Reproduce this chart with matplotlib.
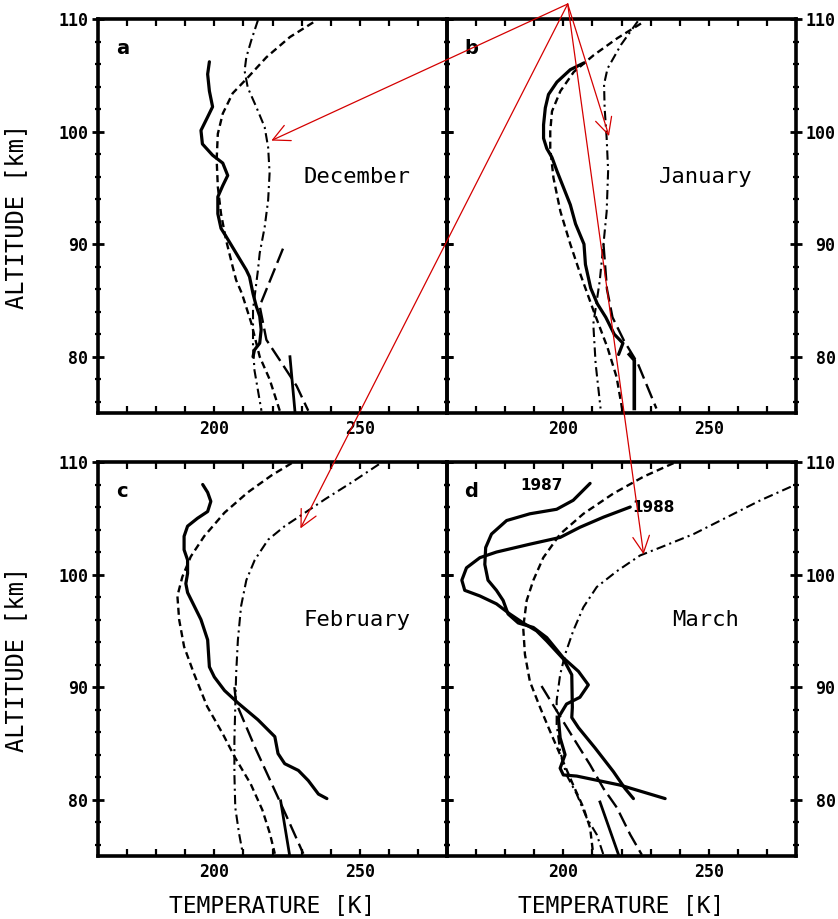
import matplotlib
matplotlib.use("Agg")
import matplotlib.pyplot as plt
from matplotlib.ticker import FixedLocator, MultipleLocator
from matplotlib.patches import ConnectionPatch

plt.rcParams['font.family'] = ['DejaVu Sans Mono', 'DejaVu Sans']

# ---------------- December (a) ----------------
dec_lidar_T = [198.3, 197.7, 198.3, 199.4, 197.7, 195.4, 195.9, 199.4, 202.9, 204.6, 202.9, 201.2, 201.2,
               202.3, 204.0, 207.5, 211.0, 212.1, 213.3, 214.4, 215.6, 216.1, 215.6, 213.8, 213.3]
dec_lidar_z = [106.2, 105.1, 103.6, 102.2, 101.3, 100.1, 98.9, 97.9, 97.2, 96.1, 95.2, 94.2, 92.7,
               91.4, 90.7, 89.2, 87.7, 87.1, 85.6, 84.5, 83.6, 82.4, 81.2, 80.6, 80.0]
dec_dash_T = [234.0, 226.0, 217.9, 211.5, 206.3, 202.9, 201.2, 200.8, 201.2, 202.3, 204.0, 206.3, 207.5,
              209.5, 212.7, 215.6, 219.0, 222.5]
dec_dash_z = [109.7, 108.4, 106.6, 104.8, 103.4, 101.6, 99.8, 97.5, 95.1, 92.7, 90.4, 88.0, 86.8,
              85.6, 83.0, 80.0, 78.0, 75.2]
dec_dd_T = [215.0, 212.7, 211.0, 210.4, 211.5, 214.4, 217.3, 218.5, 219.0, 218.5, 217.3, 215.6, 215.0,
            213.3, 213.3, 213.8, 216.2]
dec_dd_z = [109.9, 108.1, 106.6, 105.4, 103.9, 102.2, 100.4, 98.6, 96.3, 93.9, 91.5, 89.2, 87.7,
            84.2, 80.9, 78.8, 75.2]
dec_long_T = [223.6, 215.6, 217.9, 222.5, 228.3, 232.3]
dec_long_z = [89.6, 84.5, 81.5, 79.7, 77.4, 75.2]
dec_seg_T = [226.0, 227.7]
dec_seg_z = [80.0, 75.2]

# ---------------- January (b) ----------------
jan_lidar_T = [207.1, 202.4, 197.8, 194.9, 193.8, 193.2, 193.2, 194.3, 196.1, 197.8, 200.1, 202.4, 204.2,
               207.1, 207.6, 209.4, 211.7, 214.6, 217.5, 220.5, 219.0]
jan_lidar_z = [106.1, 105.5, 104.4, 103.3, 102.1, 100.6, 99.4, 98.5, 97.7, 96.5, 95.0, 93.5, 91.8,
               90.0, 88.2, 86.1, 84.7, 83.5, 82.0, 81.2, 80.2]
jan_dash_T = [226.7, 218.6, 210.5, 203.6, 199.0, 196.1, 195.5, 195.5, 196.6, 199.0, 202.4, 205.9, 210.5,
              215.2, 218.3, 220.2]
jan_dash_z = [109.6, 108.3, 106.8, 105.3, 103.6, 101.8, 100.0, 98.5, 95.9, 92.9, 90.0, 87.3, 84.0,
              80.8, 78.2, 75.4]
jan_dd_T = [225.6, 219.8, 215.2, 214.0, 214.2, 214.9, 215.4, 214.9, 213.8, 212.5, 210.3, 211.1, 212.8]
jan_dd_z = [109.8, 107.7, 105.6, 104.2, 102.1, 99.4, 96.5, 92.9, 90.0, 86.7, 82.9, 79.4, 75.4]
jan_long_T = [213.8, 215.0, 216.9, 220.9, 225.6, 232.0]
jan_long_z = [90.0, 86.0, 83.5, 81.4, 79.4, 75.4]
jan_seg_T = [222.7, 224.4, 224.4]
jan_seg_z = [80.2, 79.7, 75.4]

# ---------------- February (c) ----------------
feb_lidar_T = [196.0, 197.7, 198.8, 197.7, 194.2, 190.8, 189.6, 189.6, 190.8, 190.8, 190.2, 190.8, 193.1,
               195.4, 197.7, 198.3, 200.0, 203.5, 208.1, 215.0, 220.8, 221.9, 224.2, 228.9, 232.3, 235.8, 238.7]
feb_lidar_z = [108.0, 107.3, 106.5, 105.6, 105.0, 104.3, 103.4, 102.2, 101.3, 100.1, 99.2, 98.4, 97.2,
               96.0, 94.2, 91.8, 90.9, 89.7, 88.6, 87.1, 85.6, 84.1, 83.2, 82.6, 81.7, 80.5, 80.1]
feb_dash_T = [226.6, 219.6, 211.5, 203.5, 196.5, 191.9, 189.0, 187.3, 187.9, 189.6, 193.0, 197.5, 202.8,
              207.0, 212.5, 216.5, 219.1, 220.8]
feb_dash_z = [109.9, 108.8, 107.3, 105.5, 103.4, 101.6, 99.8, 98.1, 96.0, 93.6, 91.2, 88.3, 85.9,
              83.8, 81.4, 79.1, 77.0, 75.2]
feb_dd_T = [256.6, 247.3, 238.1, 231.2, 224.2, 218.5, 213.9, 211.0, 209.2, 208.1, 207.5, 207.2, 206.9,
            206.9, 207.2, 208.5, 209.8]
feb_dd_z = [109.8, 108.2, 106.7, 105.5, 104.3, 103.1, 101.3, 99.5, 97.2, 94.2, 91.2, 88.3, 85.3,
            82.3, 79.3, 77.0, 75.2]
feb_long_T = [206.9, 207.5, 213.9, 221.9, 225.4, 230.6]
feb_long_z = [90.0, 88.6, 84.7, 80.2, 78.2, 75.2]
feb_seg_T = [222.8, 225.8]
feb_seg_z = [79.9, 75.2]

# ---------------- March (d) ----------------
mar87_T = [209.2, 203.4, 197.7, 188.5, 180.5, 175.3, 173.3, 173.0, 174.1, 177.0, 179.3, 181.0, 184.5,
           189.7, 194.3, 200.0, 205.2, 208.6, 205.7, 201.1, 198.3, 198.9, 200.6, 198.9, 200.0, 204.6,
           219.5, 235.0]
mar87_z = [108.1, 106.6, 105.8, 105.4, 104.8, 103.6, 102.4, 100.9, 99.5, 98.6, 97.7, 96.5, 95.7,
           95.3, 94.4, 92.6, 91.4, 90.2, 89.1, 88.5, 87.3, 85.5, 84.0, 82.8, 82.2, 82.1,
           81.3, 80.1]
mar88_T = [223.0, 213.8, 205.7, 198.9, 188.5, 177.0, 171.3, 166.7, 165.1, 166.1, 171.3, 177.0, 181.6,
           186.2, 190.8, 194.3, 200.0, 202.9, 203.1, 202.9, 205.2, 210.9, 217.2, 221.2, 224.1]
mar88_z = [106.0, 105.1, 104.2, 103.3, 102.7, 102.0, 101.5, 100.6, 99.5, 98.6, 98.1, 97.4, 96.5,
           95.7, 95.0, 94.1, 92.5, 91.1, 88.2, 87.3, 86.4, 84.6, 82.5, 81.0, 80.1]
mar_dash_T = [237.9, 227.6, 217.2, 206.9, 198.9, 193.1, 189.7, 187.4, 186.2, 186.8, 188.5, 192.0, 195.4,
              198.9, 203.4, 206.9, 209.2, 210.3]
mar_dash_z = [109.9, 108.7, 107.2, 105.4, 103.6, 101.5, 99.5, 97.7, 95.3, 92.9, 90.5, 88.2, 86.1,
              84.0, 81.3, 79.3, 77.5, 75.1]
mar_dd_T = [278.2, 267.8, 256.3, 244.8, 233.3, 226.4, 218.4, 211.5, 206.9, 203.4, 200.6, 198.9, 197.7,
            197.7, 198.9, 201.1, 204.6, 208.0, 211.5, 213.8]
mar_dd_z = [107.8, 106.6, 105.1, 103.6, 102.4, 101.7, 100.3, 98.9, 97.1, 95.0, 92.9, 91.1, 88.8,
            86.7, 84.3, 82.2, 80.5, 78.4, 76.9, 75.1]
mar_long_T = [192.5, 197.7, 203.4, 209.2, 213.8, 218.4, 223.0, 227.0]
mar_long_z = [90.1, 87.9, 85.5, 83.1, 81.0, 79.3, 76.9, 75.1]
mar_seg_T = [212.6, 219.0]
mar_seg_z = [79.8, 75.1]

months = ["December", "January", "February", "March"]
panel_letters = ["a", "b", "c", "d"]
x_major = [200, 250]
y_major = [80, 90, 100, 110]
# arrow targets (T, altitude) in each panel
arrow_T = [219.6, 215.7, 229.6, 227.6]
arrow_z = [99.2, 99.6, 104.1, 101.8]

W, H = 838, 919
fig = plt.figure(figsize=(W / 100, H / 100), dpi=100)
fig.patch.set_facecolor('white')

L, M = 98 / W, 447 / W
pw = 349 / W
ph = 394 / H
axa = fig.add_axes([L, 1 - 413 / H, pw, ph])
axb = fig.add_axes([M, 1 - 413 / H, pw, ph])
axc = fig.add_axes([L, 1 - 856 / H, pw, ph])
axd = fig.add_axes([M, 1 - 856 / H, pw, ph])
axes = [axa, axb, axc, axd]

solid = dict(color='black', lw=2.3, solid_joinstyle='round', solid_capstyle='round')
dashed = dict(color='black', lw=1.7, dashes=(3.0, 1.8))
dashdot = dict(color='black', lw=1.5, dashes=(4.5, 2.0, 1.0, 2.0))
longdash = dict(color='black', lw=1.7, dashes=(6.5, 2.5))
seg = dict(color='black', lw=2.0)

data = [
    [(dec_lidar_T, dec_lidar_z, solid), (dec_dash_T, dec_dash_z, dashed), (dec_dd_T, dec_dd_z, dashdot),
     (dec_long_T, dec_long_z, longdash), (dec_seg_T, dec_seg_z, seg)],
    [(jan_lidar_T, jan_lidar_z, solid), (jan_dash_T, jan_dash_z, dashed), (jan_dd_T, jan_dd_z, dashdot),
     (jan_long_T, jan_long_z, longdash), (jan_seg_T, jan_seg_z, dict(seg, lw=2.6))],
    [(feb_lidar_T, feb_lidar_z, solid), (feb_dash_T, feb_dash_z, dashed), (feb_dd_T, feb_dd_z, dashdot),
     (feb_long_T, feb_long_z, longdash), (feb_seg_T, feb_seg_z, seg)],
    [(mar87_T, mar87_z, solid), (mar88_T, mar88_z, solid), (mar_dash_T, mar_dash_z, dashed),
     (mar_dd_T, mar_dd_z, dashdot), (mar_long_T, mar_long_z, longdash), (mar_seg_T, mar_seg_z, seg)],
]

tickfont = dict(family='DejaVu Sans Mono', weight='bold', size=12)

for i, ax in enumerate(axes):
    ax.patch.set_visible(False)
    for (T, z, st) in data[i]:
        ax.plot(T, z, **st)
    ax.set_xlim(160, 280)
    ax.set_ylim(75, 110)
    for s in ax.spines.values():
        s.set_linewidth(2.6)
    ax.xaxis.set_major_locator(FixedLocator(x_major))
    ax.xaxis.set_minor_locator(MultipleLocator(10))
    ax.yaxis.set_major_locator(FixedLocator(y_major))
    ax.yaxis.set_minor_locator(MultipleLocator(2))
    ax.tick_params(axis='x', which='both', direction='in', top=True, bottom=True,
                   length=5, width=1.6, pad=5)
    ax.tick_params(axis='y', which='major', direction='inout', left=True, right=True,
                   length=9, width=2.0)
    ax.tick_params(axis='y', which='minor', direction='inout', left=True, right=True,
                   length=5, width=1.6)
    for lab in ax.get_xticklabels():
        lab.set_fontproperties(tickfont)
    if i in (0, 2):
        ax.tick_params(axis='y', which='major', pad=2.7)
        for lab in ax.get_yticklabels():
            lab.set_fontproperties(tickfont)
        ax.set_ylabel("ALTITUDE [km]", fontsize=17)
        ax.yaxis.set_label_coords(-0.2, 0.5)
    else:
        ax.tick_params(axis='y', which='major', labelleft=False, labelright=True, pad=24)
        for t in ax.yaxis.get_major_ticks():
            t.label2.set_fontproperties(tickfont)
            t.label2.set_horizontalalignment('right')
    if i in (2, 3):
        ax.set_xlabel("TEMPERATURE [K]", fontsize=16.5)
        ax.xaxis.set_label_coords(0.5, -0.098)
    ax.text(249, 96, months[i], ha='center', va='center', fontsize=16)
    ax.text(0.07, 0.925, panel_letters[i], transform=ax.transAxes, ha='center', va='center',
            fontsize=14, fontweight='bold', family='DejaVu Sans')

axd.text(192.5, 107.9, "1987", ha='center', va='center', fontsize=11, fontweight='bold',
         family='DejaVu Sans')
axd.text(231.1, 106.0, "1988", ha='center', va='center', fontsize=11, fontweight='bold',
         family='DejaVu Sans')

origin = (567.7 / W, 1 - 4 / H)
for ax, T, z in zip(axes, arrow_T, arrow_z):
    cp = ConnectionPatch(xyA=origin, coordsA='figure fraction', xyB=(T, z), coordsB=ax.transData,
                         arrowstyle='->,head_length=1.2,head_width=0.6', mutation_scale=10,
                         color='#d40000', lw=0.9, shrinkA=0, shrinkB=0, zorder=10)
    fig.add_artist(cp)

fig.savefig("out.png", dpi=100, facecolor='white')
